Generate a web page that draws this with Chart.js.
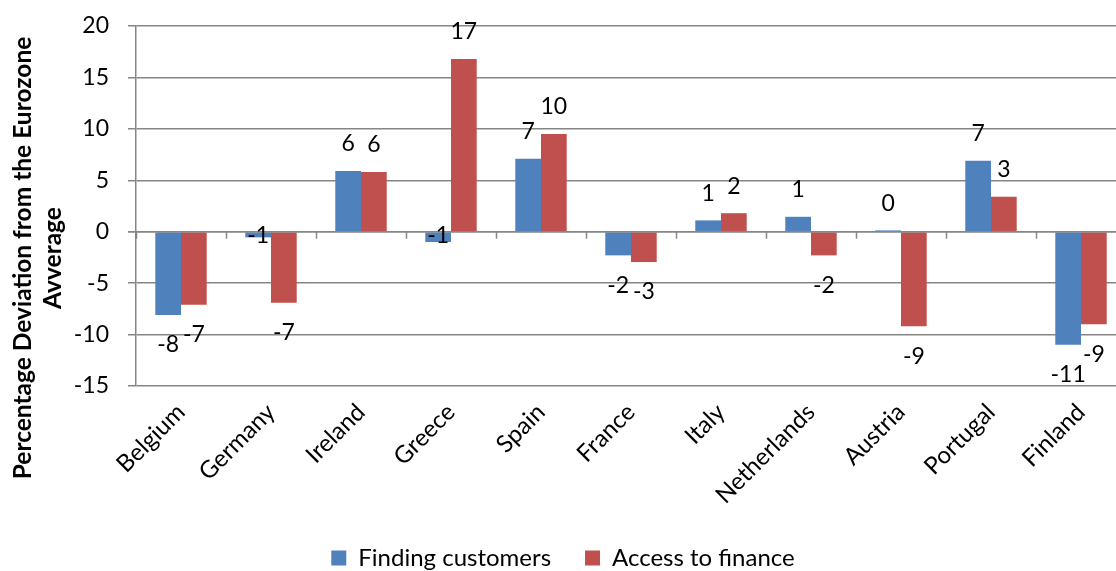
<!DOCTYPE html>
<html>
<head>
<meta charset="utf-8">
<script src="https://cdn.jsdelivr.net/npm/chart.js@4"></script>
<style>
    html, body { margin: 0; padding: 0; background: #fff; overflow: hidden; }
    #wrap { width: 1140px; height: 580px; position: relative; }
</style>
</head>
<body>
<div id="wrap"><canvas id="chart"></canvas></div>
<script>
// Chart data
const countries = ["Belgium", "Germany", "Ireland", "Greece", "Spain", "France", "Italy", "Netherlands", "Austria", "Portugal", "Finland"];
const findingCustomers = [-8.1, -0.55, 5.9, -1.0, 7.1, -2.3, 1.1, 1.45, 0.13, 6.9, -11.0];
const accessToFinance = [-7.1, -6.9, 5.8, 16.8, 9.5, -2.95, 1.8, -2.3, -9.2, 3.4, -9.0];
const yTicks = [-15, -10, -5, 0, 5, 10, 15, 20];
const seriesNames = ["Finding customers", "Access to finance"];
const yTitle = ["Percentage Deviation from the Eurozone", "Avverage"];

const FONT = "Lato, 'Open Sans', sans-serif";
const GRID = "#868686";

// round like Excel (half away from zero)
function fmt(v) {
    const r = Math.round(Math.abs(v));
    return (v < 0 && r !== 0 ? "-" : "") + r;
}

// Value labels above / below the bars
const barLabels = {
    id: "barLabels",
    afterDatasetsDraw(chart) {
        const ctx = chart.ctx;
        const zero = chart.scales.y.getPixelForValue(0);
        ctx.save();
        ctx.font = "23px " + FONT;
        ctx.fillStyle = "#000";
        ctx.textAlign = "center";
        ctx.textBaseline = "middle";
        chart.data.datasets.forEach((ds, i) => {
            chart.getDatasetMeta(i).data.forEach((bar, j) => {
                const v = ds.data[j];
                let y;
                if (v >= 0) {
                    y = bar.y - 27;
                } else if (bar.y - zero < 15) {
                    y = zero + 4; // tiny negative bars keep the label at the axis
                } else {
                    y = bar.y + 30;
                }
                ctx.fillText(fmt(v), bar.x, y);
            });
        });
        ctx.restore();
    }
};

// Category axis drawn at zero with tick marks between categories
const zeroAxis = {
    id: "zeroAxis",
    afterDatasetsDraw(chart) {
        const ctx = chart.ctx;
        const x = chart.scales.x;
        const zero = chart.scales.y.getPixelForValue(0);
        const step = x.getPixelForValue(1) - x.getPixelForValue(0);
        ctx.save();
        ctx.strokeStyle = GRID;
        ctx.lineWidth = 1.5;
        ctx.beginPath();
        ctx.moveTo(chart.chartArea.left - 8, zero);
        ctx.lineTo(chart.chartArea.right, zero);
        for (let i = 0; i <= countries.length; i++) {
            const px = Math.round(x.getPixelForValue(0) - step / 2 + i * step) + 0.5;
            ctx.moveTo(px, zero);
            ctx.lineTo(px, zero + 7);
        }
        ctx.stroke();
        ctx.restore();
    }
};

// Two-line y axis title
const yAxisTitle = {
    id: "yAxisTitle",
    afterDraw(chart) {
        const ctx = chart.ctx;
        ctx.save();
        ctx.translate(23, 258);
        ctx.rotate(-Math.PI / 2);
        ctx.font = "bold 24.5px " + FONT;
        ctx.fillStyle = "#000";
        ctx.textAlign = "center";
        ctx.textBaseline = "middle";
        ctx.fillText(yTitle[0], 0, 0);
        ctx.fillText(yTitle[1], 0, 30);
        ctx.restore();
    }
};

const ctx = document.getElementById("chart").getContext("2d");
new Chart(ctx, {
    type: "bar",
    data: {
        labels: countries,
        datasets: [{
            label: seriesNames[0],
            data: findingCustomers,
            backgroundColor: "#4F81BD",
            borderWidth: 0
        }, {
            label: seriesNames[1],
            data: accessToFinance,
            backgroundColor: "#C0504D",
            borderWidth: 0
        }]
    },
    options: {
        responsive: true,
        maintainAspectRatio: false,
        animation: false,
        datasets: {
            bar: {
                categoryPercentage: 2 / 3.5,
                barPercentage: 1
            }
        },
        layout: {
            padding: { top: 26, right: 14, bottom: 0, left: 0 }
        },
        plugins: {
            legend: {
                position: "bottom",
                labels: {
                    font: { family: FONT, size: 24 },
                    color: "#000",
                    boxWidth: 15,
                    boxHeight: 15,
                    padding: 34
                }
            },
            tooltip: { enabled: false }
        },
        scales: {
            x: {
                grid: { display: false },
                border: { display: false },
                ticks: {
                    font: { family: FONT, size: 24 },
                    color: "#000",
                    minRotation: 45,
                    maxRotation: 45,
                    padding: 4
                },
                afterFit(scale) { scale.height = 126; }
            },
            y: {
                min: -15,
                max: 20,
                afterBuildTicks(scale) {
                    scale.ticks = yTicks.map(v => ({ value: v }));
                },
                grid: {
                    color: GRID,
                    lineWidth: 1.5,
                    tickLength: 8
                },
                border: { color: GRID, width: 1.5 },
                ticks: {
                    font: { family: FONT, size: 23 },
                    color: "#000",
                    padding: 19
                },
                afterFit(scale) {
                    scale.width = 136;
                    scale.paddingTop = 0;
                    scale.paddingBottom = 0;
                }
            }
        }
    },
    plugins: [zeroAxis, barLabels, yAxisTitle]
});
</script>
</body>
</html>
